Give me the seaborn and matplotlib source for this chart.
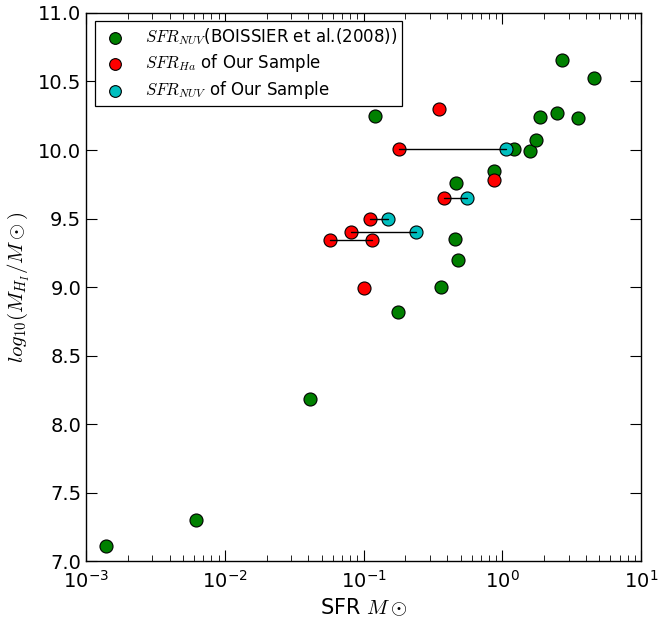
import matplotlib
matplotlib.use("Agg")
import matplotlib.pyplot as plt
import seaborn as sns
import numpy as np

# BOISSIER et al. (2008) NUV-based SFR vs HI mass
boissier_sfr = [0.00139, 0.0062, 0.041, 0.121, 0.177, 0.36, 0.456, 0.48, 0.46,
                0.87, 1.22, 1.58, 1.75, 1.87, 2.48, 2.69, 3.52, 4.58]
boissier_mhi = [7.11, 7.30, 8.18, 10.25, 8.82, 9.00, 9.35, 9.20, 9.76,
                9.85, 10.01, 9.99, 10.07, 10.24, 10.27, 10.66, 10.23, 10.525]

# Our sample: H-alpha SFR
ha_sfr = [0.35, 0.18, 0.38, 0.87, 0.111, 0.081, 0.057, 0.115, 0.10]
ha_mhi = [10.30, 10.01, 9.65, 9.78, 9.50, 9.40, 9.34, 9.34, 8.99]

# Our sample: NUV SFR
nuv_sfr = [1.06, 0.557, 0.150, 0.239]
nuv_mhi = [10.01, 9.65, 9.50, 9.40]

# Connected pairs (same galaxy, two SFR estimates)
pair_lo = [0.18, 0.38, 0.111, 0.081, 0.057]
pair_hi = [1.06, 0.557, 0.150, 0.239, 0.115]
pair_mhi = [10.01, 9.65, 9.50, 9.40, 9.34]

sns.set_style("white")
plt.rcParams["font.family"] = ["DejaVu Sans"]
plt.rcParams["mathtext.fontset"] = "cm"
plt.rcParams["text.color"] = "black"
plt.rcParams["axes.labelcolor"] = "black"

fig = plt.figure(figsize=(6.63, 6.18), dpi=100)
ax = fig.add_axes([0.130, 0.092, 0.837, 0.887])

msize = 88
sns.scatterplot(x=boissier_sfr, y=boissier_mhi, ax=ax, color="g", s=msize,
                edgecolor="black", linewidth=0.8, zorder=3,
                label=r"$SFR_{NUV}$(BOISSIER et al.(2008))")
sns.scatterplot(x=ha_sfr, y=ha_mhi, ax=ax, color="r", s=msize,
                edgecolor="black", linewidth=0.8, zorder=3,
                label=r"$SFR_{Ha}$ of Our Sample")
sns.scatterplot(x=nuv_sfr, y=nuv_mhi, ax=ax, color="c", s=msize,
                edgecolor="black", linewidth=0.8, zorder=3,
                label=r"$SFR_{NUV}$ of Our Sample")

for lo, hi, m in zip(pair_lo, pair_hi, pair_mhi):
    ax.plot([lo, hi], [m, m], color="black", lw=1.0, zorder=4)

ax.set_xscale("log")
ax.set_xlim(1e-3, 1e1)
ax.set_ylim(7.0, 11.0)
ax.set_yticks(np.arange(7.0, 11.01, 0.5))
ax.set_yticklabels([f"{v:.1f}" for v in np.arange(7.0, 11.01, 0.5)])

for sp in ax.spines.values():
    sp.set_visible(True)
    sp.set_color("black")
    sp.set_linewidth(1.0)

ax.tick_params(which="both", direction="in", top=True, right=True,
               bottom=True, left=True, colors="black")
ax.tick_params(which="major", length=8, width=0.8, labelsize=14)
ax.tick_params(which="minor", length=4, width=0.6)
ax.tick_params(axis="x", which="major", pad=6)

ax.set_xlabel(r"SFR $M\odot$", fontsize=15, color="black")
ax.set_ylabel(r"$log_{10}(M_{H_I}/M\odot)$", fontsize=15, color="black")

leg = ax.legend(loc="upper left", fontsize=12, frameon=True, fancybox=False,
                borderaxespad=0.5, handletextpad=0.9, borderpad=0.3,
                labelspacing=0.3, handlelength=1.8, markerscale=0.9)
for t in leg.get_texts():
    t.set_color("black")
leg.get_frame().set_edgecolor("black")
leg.get_frame().set_linewidth(0.9)
leg.get_frame().set_alpha(1)

fig.savefig("out.png", dpi=100)
